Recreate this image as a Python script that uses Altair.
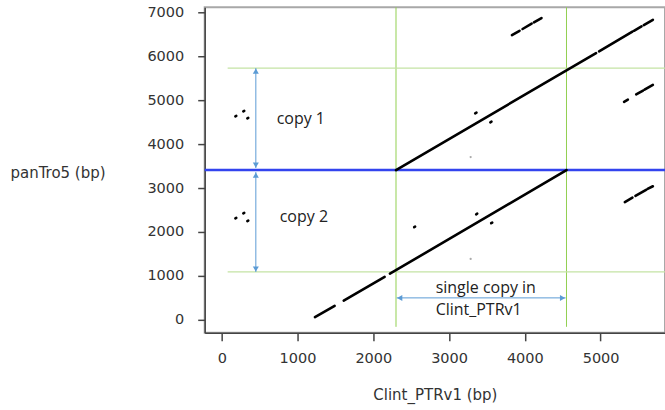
import altair as alt
import pandas as pd

# ---- data ----
# dot-plot segments (Clint_PTRv1 bp -> panTro5 bp)
seg_x1 = [1230, 1610, 2220, 2300, 4980, 5440, 5570,
          3830, 3970, 4120,
          5310, 5470, 5580,
          5320, 5460, 5620,
          180, 285, 338, 180, 285, 338,
          3345, 3545, 3358, 3556, 2540]
seg_y1 = [60, 440, 1050, 3410, 6110, 6580, 6710,
          6480, 6620, 6770,
          4960, 5130, 5240,
          2680, 2820, 2980,
          4630, 4745, 4585, 2310, 2425, 2245,
          4700, 4495, 2403, 2199, 2108]
seg_x2 = [1490, 2150, 4550, 4940, 5420, 5540, 5690,
          3930, 4090, 4220,
          5360, 5560, 5690,
          5420, 5600, 5690,
          192, 297, 350, 192, 297, 350,
          3362, 3560, 3372, 3570, 2552]
seg_y2 = [320, 980, 3410, 6070, 6560, 6680, 6830,
          6580, 6740, 6870,
          5010, 5220, 5350,
          2780, 2960, 3040,
          4642, 4757, 4597, 2322, 2437, 2257,
          4717, 4510, 2417, 2213, 2120]

faint_x = [3285, 3285]
faint_y = [3705, 1386]

green_v_x = [2300, 4550]
green_h_y = [5730, 1090]
blue_y = [3410]

# arrows
arr_x1 = [450, 450, 2309]
arr_y1 = [5730, 3364, 500]
arr_x2 = [450, 450, 4538]
arr_y2 = [3455, 1090, 500]
head_x = [450, 450, 450, 450, 2349, 4498]
head_y = [5662, 3523, 3296, 1158, 500, 500]
head_shape = ["triangle-up", "triangle-down", "triangle-up", "triangle-down",
              "triangle-left", "triangle-right"]

labels = ["copy 1", "copy 2", "single copy in", "Clint_PTRv1"]
label_x = [725, 765, 2823, 2823]
label_y = [4568, 2341, 727, 227]

x_ticks = [0, 1000, 2000, 3000, 4000, 5000]
y_ticks = [0, 1000, 2000, 3000, 4000, 5000, 6000, 7000]
x_domain = [-225, 5850]
y_domain = [-295, 7114]

# ---- build ----
W, H = 461, 326
xs = alt.Scale(domain=x_domain, nice=False, zero=False)
ys = alt.Scale(domain=y_domain, nice=False, zero=False)

segs = pd.DataFrame({"x": seg_x1, "y": seg_y1, "x2": seg_x2, "y2": seg_y2})
faint = pd.DataFrame({"x": faint_x, "y": faint_y})
gv = pd.DataFrame({"x": green_v_x})
gh = pd.DataFrame({"y": green_h_y})
bl = pd.DataFrame({"y": blue_y})
arr = pd.DataFrame({"x": arr_x1, "y": arr_y1, "x2": arr_x2, "y2": arr_y2})
heads = pd.DataFrame({"x": head_x, "y": head_y, "shape": head_shape})
txt = pd.DataFrame({"x": label_x, "y": label_y, "t": labels})

common = dict(grid=False, format="d", domainColor="#444444", domainWidth=1.5,
              tickColor="#444444", tickWidth=1.5,
              labelFont="DejaVu Sans", labelFontSize=14.5, labelColor="#333333",
              titleFont="DejaVu Sans", titleFontSize=15, titleColor="#333333",
              titleFontWeight="normal")
xax = alt.Axis(values=x_ticks, title="Clint_PTRv1 (bp)",
               tickSize=8, labelPadding=11, titleY=62, titleBaseline="middle", **common)
yax = alt.Axis(values=y_ticks, title="panTro5 (bp)",
               tickSize=7, labelPadding=14, titleAngle=0, titleAlign="left",
               titleX=-195, titleY=165, titleBaseline="middle", **common)

base_x = alt.X("x:Q", scale=xs, axis=xax)
base_y = alt.Y("y:Q", scale=ys, axis=yax)

green_v = alt.Chart(gv).mark_rule(color="#92d050", strokeWidth=1).encode(
    x=base_x, y=alt.value(H - 6), y2=alt.value(0))
green_h = alt.Chart(gh).mark_rule(color="#c4e3a4", strokeWidth=1.2).encode(
    y=base_y, x=alt.value(23), x2=alt.value(W))
blue = alt.Chart(bl).mark_rule(color="#3344ee", strokeWidth=2.5).encode(
    y=base_y, x=alt.value(0), x2=alt.value(W))
lines = alt.Chart(segs).mark_rule(color="black", strokeWidth=2.6, strokeCap="round").encode(
    x=base_x, y=base_y, x2="x2:Q", y2="y2:Q")
faint_pts = alt.Chart(faint).mark_point(filled=True, color="#aaaaaa", size=5, opacity=1).encode(
    x=base_x, y=base_y)
arrows = alt.Chart(arr).mark_rule(color="#5b9bd5", strokeWidth=1).encode(
    x=base_x, y=base_y, x2="x2:Q", y2="y2:Q")
arrow_heads = alt.Chart(heads).mark_point(filled=True, color="#5b9bd5", size=36, opacity=1).encode(
    x=base_x, y=base_y, shape=alt.Shape("shape:N", scale=None, legend=None))
texts = alt.Chart(txt).mark_text(align="left", baseline="middle", font="Open Sans",
                                 fontSize=16, color="#222222").encode(
    x=base_x, y=base_y, text="t:N")

chart = alt.layer(green_v, green_h, blue, lines, faint_pts, arrows, arrow_heads, texts).properties(
    width=W, height=H,
    autosize=alt.AutoSizeParams(type="none"),
    padding={"left": 205, "top": 7, "right": 0, "bottom": 77},
).configure_view(stroke="#a8a8a8", strokeWidth=2)

chart.save("out.html", embed_options={"renderer": "svg", "actions": False})
